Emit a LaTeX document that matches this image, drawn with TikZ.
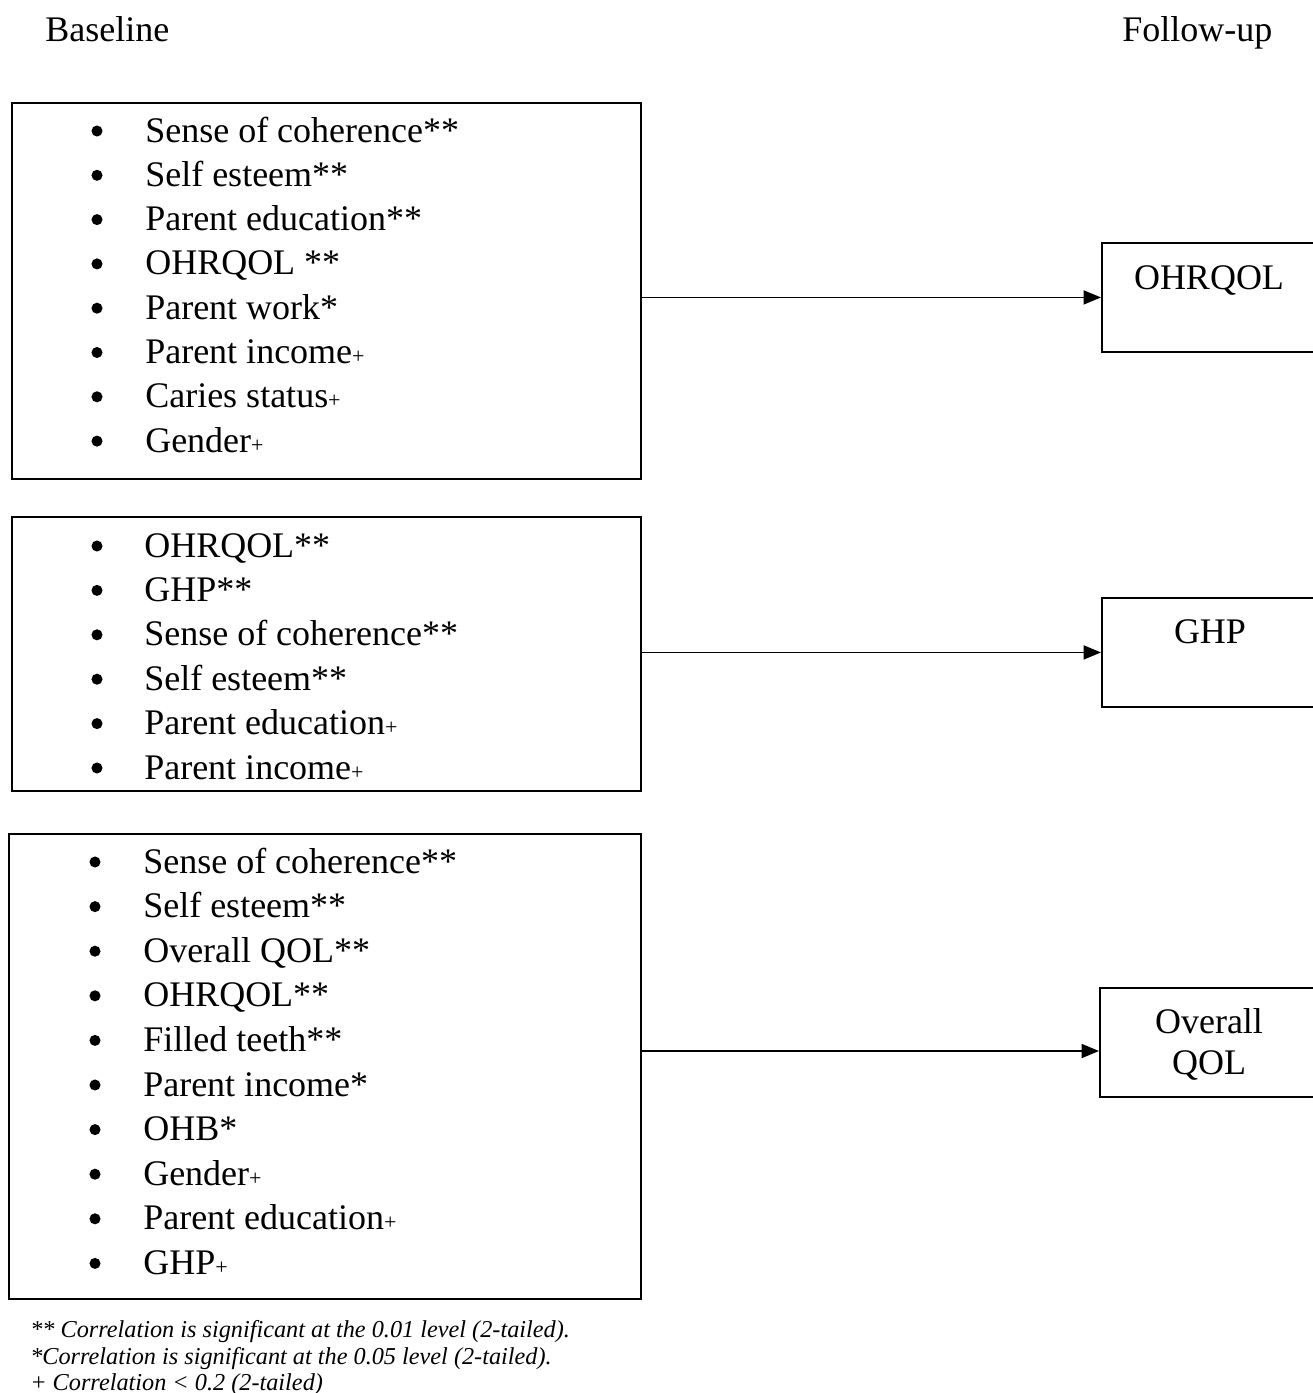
\documentclass[tikz,border=0pt]{standalone}
\usepackage{fontspec}
\setmainfont{Liberation Serif}
\usetikzlibrary{arrows.meta}
% small plus sign used as a marker after item names
\newcommand{\pmark}{{\fontsize{16.5}{16.5}\selectfont+}}
\begin{document}
\begin{tikzpicture}[x=0.75pt,y=-0.75pt,
  lbl/.style={font=\fontsize{27}{32}\selectfont, inner sep=0},
  item/.style={lbl, anchor=base west},
  dot/.style={circle, fill=black, inner sep=0, minimum size=8.3pt},
  frame/.style={draw=black, line width=1.4pt, inner sep=0, anchor=north west},
  link/.style={line width=1.1pt, -{Triangle[length=13pt,width=10.5pt]}},
  note/.style={font=\fontsize{18.2}{20}\selectfont\itshape, inner sep=0, anchor=base west}]
\useasboundingbox (0,0) rectangle (1313,1393);
\clip (0,0) rectangle (1313,1393);
\fill[white] (0,0) rectangle (1313,1393);

% column headings
\node[lbl, anchor=base west] (hbase) at (45,41) {Baseline};
\node[lbl, anchor=base west] (hfollow) at (1122,41) {Follow-up};

% left-hand boxes of baseline predictors
\node[frame, minimum width=629*0.75pt, minimum height=376*0.75pt] (b1) at (11,102) {};
\node[frame, minimum width=629*0.75pt, minimum height=274*0.75pt] (b2) at (11,516) {};
\node[frame, minimum width=632*0.75pt, minimum height=465*0.75pt] (b3) at (8,833) {};

\foreach \t [count=\i] in {Sense of coherence**, Self esteem**, Parent education**,
    OHRQOL **, Parent work*, Parent income\pmark, Caries status\pmark, Gender\pmark} {
  \node[dot] (b1d\i) at (97,{131+44.3*(\i-1)}) {};
  \node[item] (b1t\i) at (145,{142+44.3*(\i-1)}) {\t};
}
\foreach \t [count=\i] in {OHRQOL**, GHP**, Sense of coherence**, Self esteem**,
    Parent education\pmark, Parent income\pmark} {
  \node[dot] (b2d\i) at (97,{546+44.4*(\i-1)}) {};
  \node[item] (b2t\i) at (144,{557+44.4*(\i-1)}) {\t};
}
\foreach \t [count=\i] in {Sense of coherence**, Self esteem**, Overall QOL**, OHRQOL**,
    Filled teeth**, Parent income*, OHB*, Gender\pmark, Parent education\pmark, GHP\pmark} {
  \node[dot] (b3d\i) at (95,{862+44.6*(\i-1)}) {};
  \node[item] (b3t\i) at (143,{873+44.6*(\i-1)}) {\t};
}

% follow-up outcome boxes (run past the right edge)
\node[frame, minimum width=230*0.75pt, minimum height=109*0.75pt] (r1) at (1101,242) {};
\node[frame, minimum width=230*0.75pt, minimum height=109*0.75pt] (r2) at (1101,597) {};
\node[frame, minimum width=230*0.75pt, minimum height=109*0.75pt] (r3) at (1099,987) {};
\node[lbl, anchor=base] (r1t) at (1209,289) {OHRQOL};
\node[lbl, anchor=base] (r2t) at (1210,643) {GHP};
\node[lbl, anchor=base] (r3t) at (1209,1033) {Overall};
\node[lbl, anchor=base] (r3u) at (1209,1074) {QOL};

% arrows from predictors to outcomes
\coordinate (a3) at (640,1051);
\draw[link] (b1.east |- r1.west) -- (r1.west);
\draw[link] (b2.east |- r2.west) -- (r2.west);
\draw[link] (b3.east |- a3) -- (r3.west |- a3);

% significance notes
\node[note] (n1) at (30,1337) {** Correlation is significant at the 0.01 level (2-tailed).};
\node[note] (n2) at (30,1364) {*Correlation is significant at the 0.05 level (2-tailed).};
\node[note] (n3) at (30,1390) {+ Correlation < 0.2 (2-tailed)};
\end{tikzpicture}
\end{document}
